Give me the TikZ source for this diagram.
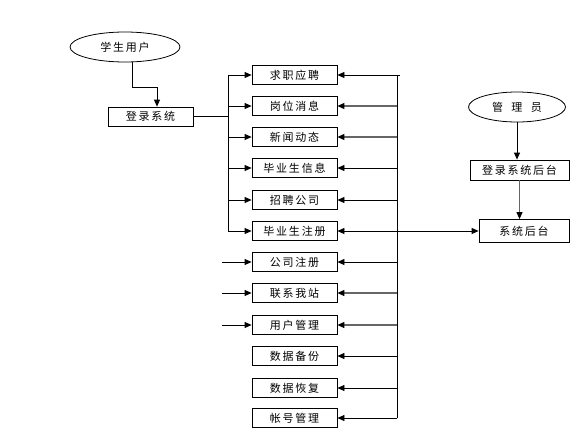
\documentclass[tikz,border=0pt]{standalone}
\usepackage{fontspec}
\newfontfamily\cjk[LetterSpace=16]{Noto Sans CJK SC}
\usetikzlibrary{arrows.meta,shapes.geometric}
\begin{document}
\begin{tikzpicture}[x=1pt,y=-1pt,
  every node/.style={font=\cjk\fontsize{11}{12}\selectfont,inner sep=0pt},
  box/.style={draw,line width=0.8pt,minimum width=85,minimum height=19},
  oval/.style={draw,ellipse,line width=0.8pt},
  ln/.style={line width=0.8pt},
  arr/.style={line width=0.8pt,-{Triangle[length=7pt,width=6pt]}},
  garr/.style={line width=1.1pt,draw=black!60,-{Triangle[length=7pt,width=6pt,color=black]}}]
\useasboundingbox (0,0) rectangle (585,434);
% left part
\node[oval,minimum width=110,minimum height=30] (stu) at (125,47) {学生用户};
\node[box] (login) at (150.5,116.5) {登录系统};
\coordinate (bend) at (157,87);
\draw[arr] ([xshift=7pt]stu.south) |- (bend) -- (bend |- login.north);
% middle boxes
\node[box] (m1) at (294.5,75) {求职应聘};
\node[box] (m2) at (294.5,106) {岗位消息};
\node[box] (m3) at (294.5,137) {新闻动态};
\node[box] (m4) at (294.5,168) {毕业生信息};
\node[box] (m5) at (294.5,200) {招聘公司};
\node[box] (m6) at (294.5,231) {毕业生注册};
\node[box] (m7) at (294.5,262) {公司注册};
\node[box] (m8) at (294.5,293) {联系我站};
\node[box] (m9) at (294.5,325) {用户管理};
\node[box] (m10) at (294.5,356) {数据备份};
\node[box] (m11) at (294.5,388) {数据恢复};
\node[box] (m12) at (294.5,418) {帐号管理};
\coordinate (LB) at (228,0);
\coordinate (LS) at (222,0);
\coordinate (RB) at (397,0);
\draw[ln] (login.east) -- (login.east -| LB);
\draw[ln] (m1.west -| LB) -- (m6.west -| LB);
\foreach \i in {1,...,6} \draw[arr] (m\i.west -| LB) -- (m\i.west);
\foreach \i in {7,8,9} \draw[arr] (m\i.west -| LS) -- (m\i.west);
\draw[ln] (m1.east -| RB) -- ++(3,0);
\draw[ln] (m1.east -| RB) -- (m12.east -| RB);
\foreach \i in {1,4,5,6,7,10,11,12} \draw[arr] (m\i.east -| RB) -- (m\i.east);
\foreach \i in {2,3,8,9} \draw[garr] (m\i.east -| RB) -- (m\i.east);
% right part
\node[oval,minimum width=97,minimum height=30] (adm) at (517,107) {管\ \ 理\ \ 员};
\node[box,minimum width=99,minimum height=20] (login2) at (519.5,170) {登录系统后台};
\node[box,minimum width=90,minimum height=23] (sys) at (524,231) {系统后台};
\draw[arr] (adm.south) -- (adm.south |- login2.north);
\draw[garr] (login2.south) -- (login2.south |- sys.north);
\draw[arr] (m6.east -| RB) -- (sys.west);
\end{tikzpicture}
\end{document}
